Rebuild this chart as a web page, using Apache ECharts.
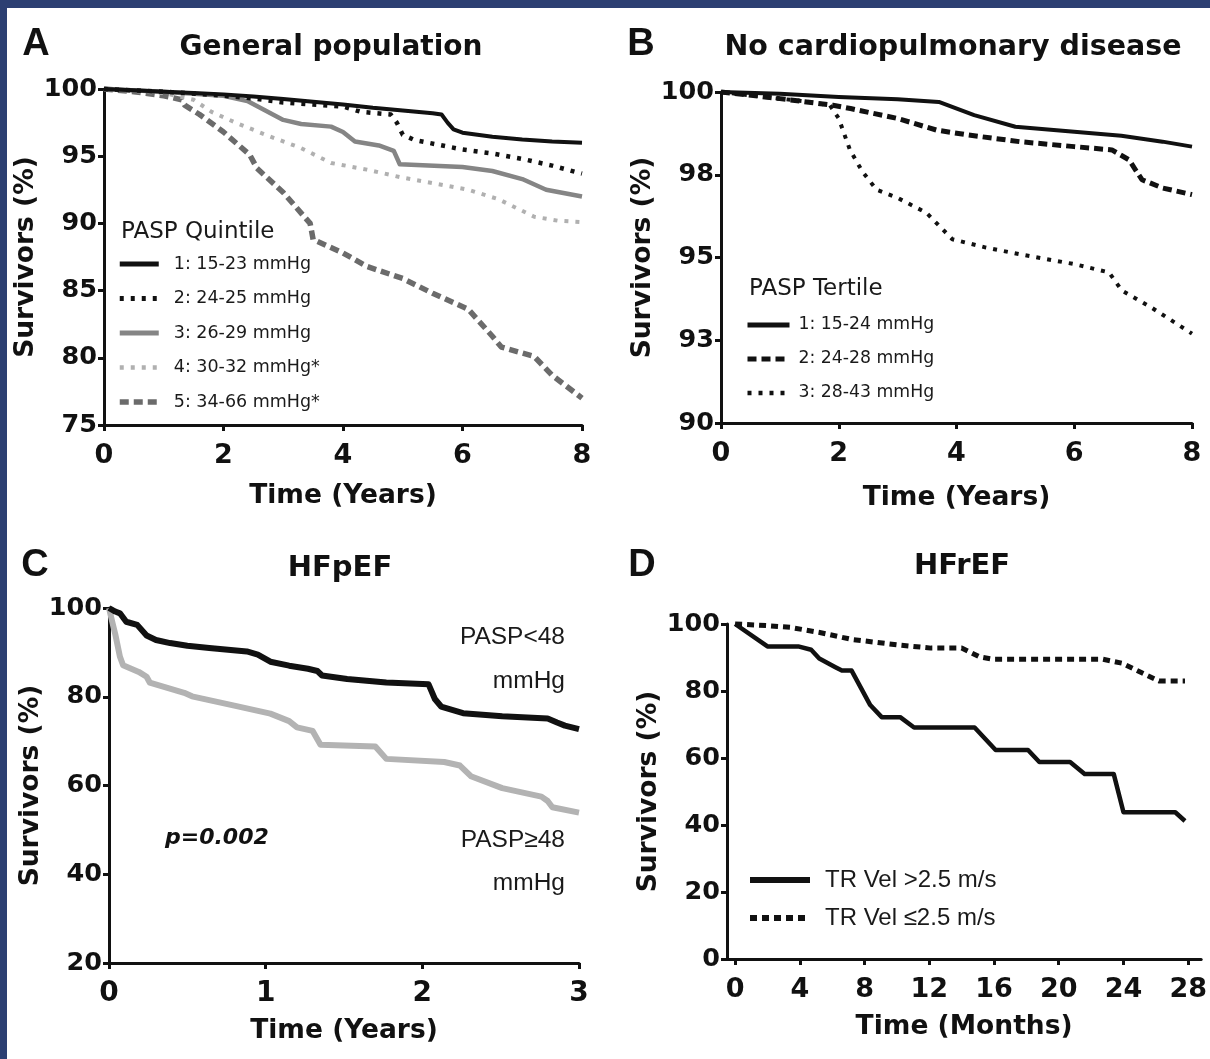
<!DOCTYPE html>
<html>
<head>
<meta charset="utf-8">
<title>PASP survival curves</title>
<script src="https://cdn.jsdelivr.net/npm/echarts@6.0.0/dist/echarts.min.js"></script>
<style>
  html, body { margin: 0; padding: 0; }
  body { width: 1210px; height: 1059px; background: #2c3f72; position: relative; overflow: hidden; }
  .paper { position: absolute; left: 7px; top: 8px; right: 0; bottom: 0; background: #fff; }
  #chart { position: absolute; left: 0; top: 0; width: 1210px; height: 1059px; }
</style>
</head>
<body>
<div class="paper"></div>
<div id="chart"></div>
<script>
  // ---- data: [time, survivors %] ----
  // A: general population, PASP quintiles (years)
  const quintileNames = ['1: 15-23 mmHg', '2: 24-25 mmHg', '3: 26-29 mmHg', '4: 30-32 mmHg*', '5: 34-66 mmHg*'];
  const quintile1 = [[0,100],[0.5,99.9],[1,99.8],[1.5,99.7],[2,99.6],[2.5,99.45],[3,99.25],[3.5,99.05],[4,98.85],[4.5,98.6],[5,98.4],[5.5,98.2],[5.65,98.1],[5.75,97.5],[5.85,97.0],[6,96.75],[6.5,96.45],[7,96.25],[7.5,96.1],[8,96.0]];
  const quintile2 = [[0,100],[1,99.8],[2,99.5],[2.5,99.3],[3,99.0],[3.5,98.85],[4,98.7],[4.3,98.3],[4.8,98.1],[4.9,97.5],[5.0,96.6],[5.2,96.2],[6,95.5],[6.5,95.2],[7,94.8],[7.5,94.3],[8,93.7]];
  const quintile3 = [[0,100],[1,99.8],[2,99.5],[2.4,99.1],[2.7,98.4],[3.0,97.7],[3.3,97.4],[3.8,97.2],[4.0,96.8],[4.2,96.1],[4.6,95.8],[4.85,95.4],[4.95,94.4],[6.0,94.2],[6.5,93.9],[7.0,93.3],[7.4,92.5],[8,92.0]];
  const quintile4 = [[0,100],[1,99.7],[1.5,99.2],[1.8,98.3],[2.2,97.5],[2.7,96.6],[3.3,95.6],[3.8,94.5],[4.4,94.0],[5,93.4],[5.5,93.0],[6.1,92.5],[6.6,91.8],[7.2,90.5],[7.6,90.2],[8,90.1]];
  const quintile5 = [[0,100],[0.5,99.8],[1,99.5],[1.3,99.2],[1.35,98.8],[1.6,98.1],[2.0,96.8],[2.44,95.1],[2.56,94.1],[3.0,92.3],[3.45,90.0],[3.5,88.8],[4.0,87.8],[4.4,86.8],[5.0,85.9],[5.5,84.8],[6.1,83.6],[6.5,81.6],[6.65,80.8],[7.2,80.1],[7.5,78.7],[8,77.0]];

  // B: no cardiopulmonary disease, PASP tertiles (years)
  const tertileNames = ['1: 15-24 mmHg', '2: 24-28 mmHg', '3: 28-43 mmHg'];
  const tertile1 = [[0,100],[1,99.95],[2,99.85],[3,99.78],[3.7,99.7],[4.3,99.3],[5.0,98.95],[6,98.8],[6.8,98.68],[7.5,98.5],[8,98.35]];
  const tertile2 = [[0,100],[1,99.8],[1.9,99.6],[2.2,99.5],[3,99.2],[3.66,98.85],[4.2,98.7],[5.07,98.5],[6,98.35],[6.64,98.25],[6.93,97.95],[7.15,97.35],[7.5,97.1],[8,96.9]];
  const tertile3 = [[0,100],[1,99.8],[1.5,99.7],[1.85,99.6],[2.0,99.2],[2.07,98.85],[2.19,98.25],[2.4,97.6],[2.64,97.05],[3.0,96.8],[3.49,96.35],[3.93,95.55],[4.5,95.3],[5.07,95.1],[6,94.8],[6.59,94.55],[6.81,94.0],[7.3,93.5],[8,92.7]];

  // C: HFpEF (years)
  const paspLow = [[0,100],[0.04,99.2],[0.07,98.8],[0.11,96.9],[0.18,96.2],[0.24,93.8],[0.3,92.8],[0.39,92.1],[0.5,91.5],[0.64,91.0],[0.88,90.2],[0.95,89.5],[1.03,87.9],[1.15,87.0],[1.27,86.3],[1.33,85.8],[1.36,84.8],[1.52,84.0],[1.77,83.2],[2.04,82.8],[2.08,79.5],[2.12,77.8],[2.26,76.3],[2.51,75.6],[2.8,75.1],[2.86,74.2],[2.91,73.5],[3,72.7]];
  const paspHigh = [[0,100],[0.02,97],[0.04,94.1],[0.07,89],[0.09,87.1],[0.19,85.6],[0.24,84.5],[0.26,83.2],[0.48,80.9],[0.53,80.1],[0.8,78],[1.03,76.2],[1.15,74.5],[1.2,73.1],[1.3,72.3],[1.35,69.2],[1.7,68.8],[1.77,66.0],[2.14,65.3],[2.24,64.5],[2.31,62.1],[2.51,59.4],[2.76,57.5],[2.8,56.5],[2.83,55.1],[3,53.9]];

  // D: HFrEF (months)
  const trNames = ['TR Vel >2.5 m/s', 'TR Vel \u22642.5 m/s'];
  const trHigh = [[0,100],[2,93.3],[3.9,93.3],[4.7,92.3],[5.2,89.7],[6.2,87.1],[6.6,86.1],[7.2,86.1],[8.35,75.8],[9.06,72.2],[10.2,72.2],[11.06,69.1],[14.8,69.1],[16.1,62.4],[18.1,62.4],[18.8,58.8],[20.7,58.8],[21.6,55.2],[23.4,55.2],[24,43.8],[27.2,43.8],[27.8,41.2]];
  const trLow = [[0,100],[2,99.5],[3.4,99.0],[5.3,97.4],[7.2,95.4],[10,93.8],[12.1,92.8],[14,92.8],[15.1,90.2],[15.9,89.5],[22.7,89.5],[23.9,88.3],[25.1,85.5],[26.2,83.0],[27.8,83.0]];

  const monthTicks = [0, 4, 8, 12, 16, 20, 24, 28];

  const FONT = 'DejaVu Sans';
  const ARIAL = 'Liberation Sans';
  const INK = '#111';

  function xAxisOf(grid, min, max, interval, name, nameGap, labelSize) {
    return {
      gridIndex: grid, type: 'value', min: min, max: max, interval: interval,
      name: name, nameLocation: 'middle', nameGap: nameGap,
      nameTextStyle: { fontFamily: FONT, fontWeight: 'bold', fontSize: 26.5, color: INK },
      axisLine: { onZero: false, lineStyle: { color: INK, width: 3 } },
      axisTick: { length: 6, lineStyle: { color: INK, width: 3 } },
      axisLabel: { margin: 17, fontFamily: FONT, fontWeight: 'bold', fontSize: labelSize, color: INK },
      splitLine: { show: false }
    };
  }
  function yAxisOf(grid, min, max, interval, nameGap) {
    return {
      gridIndex: grid, type: 'value', min: min, max: max, interval: interval,
      name: 'Survivors (%)', nameLocation: 'middle', nameRotate: 90, nameGap: nameGap,
      nameTextStyle: { fontFamily: FONT, fontWeight: 'bold', fontSize: 26.5, color: INK },
      axisLine: { onZero: false, lineStyle: { color: INK, width: 3 } },
      axisTick: { length: 6, lineStyle: { color: INK, width: 3 } },
      axisLabel: { margin: 7, fontFamily: FONT, fontWeight: 'bold', fontSize: 25.5, color: INK },
      splitLine: { show: false }
    };
  }
  function curve(name, grid, data, color, width, dash) {
    return {
      name: name, type: 'line', xAxisIndex: grid, yAxisIndex: grid, data: data,
      symbol: 'none', showSymbol: false, clip: false, silent: true,
      itemStyle: { color: color },
      lineStyle: { color: color, width: width, type: dash || 'solid', cap: 'butt', join: 'round' }
    };
  }
  // legend entry: line sample only, no symbol
  function entry(name, width) {
    return { name: name, itemStyle: { opacity: 0 }, lineStyle: { width: width } };
  }
  function label(text, x, y, size, opts) {
    opts = opts || {};
    return {
      type: 'text', x: x, y: y, z: 10,
      style: {
        text: text, fill: opts.color || INK,
        fontFamily: opts.family || FONT, fontSize: size,
        fontWeight: opts.weight || 'normal', fontStyle: opts.style || 'normal',
        align: opts.align || 'center', verticalAlign: 'middle',
        textAlign: opts.align || 'center', textVerticalAlign: 'middle'
      }
    };
  }

  const dMonthX = xAxisOf(3, -0.5, 28.8, null, 'Time (Months)', 55, 27);
  delete dMonthX.interval;
  dMonthX.axisLabel.customValues = monthTicks;
  dMonthX.axisTick.customValues = monthTicks;

  const bY = yAxisOf(1, 90, 100, 2.5, 60);
  bY.axisLabel.formatter = function (v) { return String(Math.round(v)); };

  const option = {
    animation: false,
    backgroundColor: 'transparent',
    grid: [
      { left: 104, top: 89, width: 478, height: 336 },
      { left: 721, top: 92, width: 471, height: 331 },
      { left: 109, top: 608, width: 470, height: 355 },
      { left: 727, top: 624, width: 476, height: 335 }
    ],
    xAxis: [
      xAxisOf(0, 0, 8, 2, 'Time (Years)', 58, 27),
      xAxisOf(1, 0, 8, 2, 'Time (Years)', 62, 27),
      xAxisOf(2, 0, 3, 1, 'Time (Years)', 55, 28),
      dMonthX
    ],
    yAxis: [
      yAxisOf(0, 75, 100, 5, 56),
      bY,
      yAxisOf(2, 20, 100, 20, 60),
      yAxisOf(3, 0, 100, 20, 60)
    ],
    legend: [
      {
        left: 117, top: 254, orient: 'vertical', padding: 0, selectedMode: false,
        itemWidth: 39, itemHeight: 20, itemGap: 14.5,
        data: [entry(quintileNames[0], 5), entry(quintileNames[1], 5), entry(quintileNames[2], 5),
               entry(quintileNames[3], 4.5), entry(quintileNames[4], 5.5)],
        textStyle: { fontFamily: FONT, fontSize: 17.5, color: '#1a1a1a', lineHeight: 20, padding: [0, 0, 0, 10] }
      },
      {
        left: 745, top: 315, orient: 'vertical', padding: 0, selectedMode: false,
        itemWidth: 42, itemHeight: 20, itemGap: 14,
        data: [entry(tertileNames[0], 5), entry(tertileNames[1], 5), entry(tertileNames[2], 4.5)],
        textStyle: { fontFamily: FONT, fontSize: 17.3, color: '#1a1a1a', lineHeight: 20, padding: [0, 0, 0, 4] }
      },
      {
        left: 747, top: 868, orient: 'vertical', padding: 0, selectedMode: false,
        itemWidth: 60, itemHeight: 20, itemGap: 14,
        data: [entry(trNames[0], 6), entry(trNames[1], 6)],
        textStyle: { fontFamily: ARIAL, fontSize: 24, color: '#1a1a1a', lineHeight: 20, padding: [0, 0, 0, 10] }
      }
    ],
    graphic: [
      label('A', 36, 45, 38, { family: ARIAL, weight: 'bold' }),
      label('B', 641, 45, 38, { family: ARIAL, weight: 'bold' }),
      label('C', 35, 566, 38, { family: ARIAL, weight: 'bold' }),
      label('D', 642, 566, 38, { family: ARIAL, weight: 'bold' }),
      label('General population', 331, 48, 28, { weight: 'bold' }),
      label('No cardiopulmonary disease', 953, 48, 28.5, { weight: 'bold' }),
      label('HFpEF', 340, 568, 29, { weight: 'bold' }),
      label('HFrEF', 962, 566, 29, { weight: 'bold' }),
      label('PASP Quintile', 121, 232, 23, { align: 'left', color: '#1a1a1a' }),
      label('PASP Tertile', 749, 289, 23, { align: 'left', color: '#1a1a1a' }),
      label('PASP<48', 565, 637, 24.5, { family: ARIAL, align: 'right', color: '#1a1a1a' }),
      label('mmHg', 565, 681, 24.5, { family: ARIAL, align: 'right', color: '#1a1a1a' }),
      label('PASP\u226548', 565, 840, 24.5, { family: ARIAL, align: 'right', color: '#1a1a1a' }),
      label('mmHg', 565, 883, 24.5, { family: ARIAL, align: 'right', color: '#1a1a1a' }),
      label('p=0.002', 165, 838, 22, { family: FONT, weight: 'bold', style: 'italic', align: 'left' })
    ],
    series: [
      curve(quintileNames[4], 0, quintile5, '#6b6b6b', 5.5, [9, 5]),
      curve(quintileNames[3], 0, quintile4, '#b0b0b0', 4, [4, 7]),
      curve(quintileNames[2], 0, quintile3, '#858585', 4.5),
      curve(quintileNames[1], 0, quintile2, '#111', 4.5, [4, 7]),
      curve(quintileNames[0], 0, quintile1, '#111', 4),

      curve(tertileNames[2], 1, tertile3, '#111', 4, [4, 7]),
      curve(tertileNames[1], 1, tertile2, '#111', 5, [9, 5]),
      curve(tertileNames[0], 1, tertile1, '#111', 4),

      curve('PASP\u226548 mmHg', 2, paspHigh, '#b3b3b3', 6),
      curve('PASP<48 mmHg', 2, paspLow, '#111', 6),

      curve(trNames[1], 3, trLow, '#111', 5, [7, 5]),
      curve(trNames[0], 3, trHigh, '#111', 4.5)
    ]
  };

  const chart = echarts.init(document.getElementById('chart'), null, { renderer: 'canvas' });
  chart.setOption(option);
</script>
</body>
</html>
